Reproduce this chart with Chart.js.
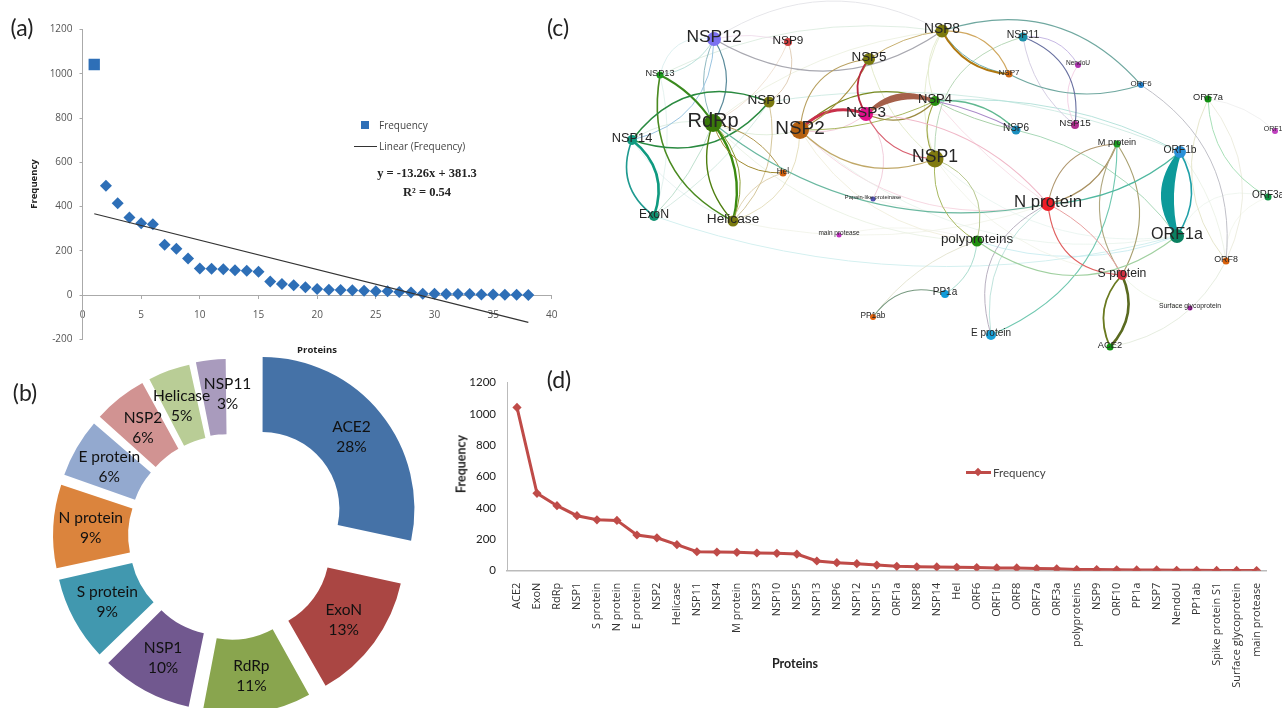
<!DOCTYPE html>
<html>
<head>
<meta charset="utf-8">
<title>Protein frequency</title>
<script src="https://cdn.jsdelivr.net/npm/chart.js@4"></script>
<style>
  html, body { margin: 0; background: #fff; overflow: hidden; width: 1282px; height: 708px; }
  #page { position: relative; width: 1282px; height: 708px; overflow: hidden; filter: blur(0.4px); }
  canvas { position: absolute; }
  .t { position: absolute; white-space: nowrap; transform: translate(-50%, -50%); color: #222; }
  .letter { font: 23px Lato, sans-serif; }
  .leg { font: 10px "Open Sans", sans-serif; color: #444; transform: translateY(-50%); }
</style>
</head>
<body>
<div id="page">
  <canvas id="panelA" width="570" height="356" style="left:0;top:0"></canvas>
  <canvas id="panelB" width="456" height="380" style="left:1px;top:346px"></canvas>
  <canvas id="panelC" width="692" height="360" style="left:590px;top:0"></canvas>
  <canvas id="panelD" width="842" height="348" style="left:440px;top:360px"></canvas>

  <div class="t letter" style="left:22px;top:27px">(a)</div>
  <div class="t letter" style="left:25px;top:392px">(b)</div>
  <div class="t letter" style="left:558px;top:27px">(c)</div>
  <div class="t letter" style="left:559px;top:379px">(d)</div>

  <div class="t" style="left:33px;top:184px;font:bold 9.5px 'Open Sans';transform:translate(-50%,-50%) rotate(-90deg)">Frequency</div>
  <div class="t" style="left:317px;top:349px;font:bold 9.5px 'Open Sans'">Proteins</div>
  <div style="position:absolute;left:361px;top:121px;width:8px;height:8px;background:#2e6fb7"></div>
  <div class="t leg" style="left:379px;top:125px">Frequency</div>
  <div style="position:absolute;left:354px;top:146px;width:23px;height:1px;background:#333"></div>
  <div class="t leg" style="left:379px;top:146px">Linear (Frequency)</div>
  <div class="t" style="left:427px;top:173px;font:bold 12.5px 'Liberation Serif'">y = -13.26x + 381.3</div>
  <div class="t" style="left:427px;top:192px;font:bold 12.5px 'Liberation Serif'">R² = 0.54</div>

  <div class="t" style="left:461px;top:464px;font:bold 12.5px Lato;transform:translate(-50%,-50%) rotate(-90deg)">Frequency</div>
  <div class="t" style="left:795px;top:663px;font:bold 12.5px Lato">Proteins</div>
  <div style="position:absolute;left:966px;top:471px;width:25px;height:3px;background:#bf4b48"></div>
  <div style="position:absolute;left:975px;top:469px;width:6px;height:6px;background:#bf4b48;transform:rotate(45deg)"></div>
  <div class="t leg" style="left:993px;top:472px;font:11.5px Lato">Frequency</div>
</div>

<script>
// frequency per protein
const proteins = ['ACE2','ExoN','RdRp','NSP1','S protein','N protein','E protein','NSP2','Helicase','NSP11','NSP4','M protein','NSP3','NSP10','NSP5','NSP13','NSP6','NSP12','NSP15','ORF1a','NSP8','NSP14','Hel','ORF6','ORF1b','ORF8','ORF7a','ORF3a','polyproteins','NSP9','ORF10','PP1a','NSP7','NendoU','PP1ab','Spike protein S1','Surface glycoprotein','main protease'];
const frequency = [1042,494,415,351,325,321,228,210,166,121,119,117,113,111,106,62,51,45,36,28,25,24,22,20,18,18,14,12,7,7,6,5,5,3,3,2,2,1];
const trendX = [1,38];
const trendY = [368,-122.6];
const freqTicks = { min: -200, max: 1200, step: 200 };

// top ten share (b), the same counts as the first ten of panel (d)
const shareNames = ['ACE2','ExoN','RdRp','NSP1','S protein','N protein','E protein','NSP2','Helicase','NSP11'];
const shareValues = [1042,494,415,351,325,321,228,210,166,121];
const shareColors = ['#4572a7','#aa4643','#89a54e','#71588f','#4198af','#db843d','#93a9cf','#d19392','#b9cd96','#a99bbd'];
const shareExplode = [44,29,28,25,25,25,25,25,25,26];

// network (c): node layout
const nodeNames = ['NSP12','NSP9','NSP13','NSP5','NSP8','NSP11','NendoU','NSP7','ORF6','ORF7a','ORF10','NSP10','NSP4','NSP3','NSP2','RdRp','NSP14','NSP6','NSP15','M protein','ORF1b','NSP1','Hel','Papain-like proteinase','N protein','ExoN','Helicase','main protease','polyproteins','ORF1a','ORF3a','ORF8','S protein','PP1a','PP1ab','Surface glycoprotein','E protein','ACE2'];
const nodeX = [714,788,660,869,942,1023,1078,1009,1141,1208,1275,769,935,866,800,713,632,1016,1075,1117,1180,935,783,873,1048,654,733,839,977,1177,1268,1226,1122,945,873,1190,991,1110];
const nodeY = [39,42,75,59,31,37,65,74,85,99,131,102,101,114,130,123,140,130,125,144,152,159,173,199,204,216,221,235,241,236,197,261,275,294,317,308,335,347];
const nodeSize = [7,4,3.5,6,6.5,4.5,3,3.5,3,3.5,3,5.5,5,7,9,9,5,4.5,4,3.5,6,8.5,3.5,2.5,7,5,5.5,2.5,5.5,7,3.5,3.5,5,4,3,2.5,5,3.5];
const nodeColor = ['#7b72f0','#cf3f3f','#1a9a1a','#7a7a10','#7d7a0c','#1c8fa8','#b030b0','#d06a10','#1f80d0','#109010','#c040c0','#7a7a10','#2a9010','#e0108a','#b5600f','#3a7a0a','#0f9a80','#1c90c0','#b03090','#1a9a20','#2a90d8','#807a10','#d0600f','#5050b0','#ee1c25','#109070','#7a7a10','#c030c0','#209010','#0a8060','#109040','#d8600a','#d03040','#109ad8','#e0600a','#a020a0','#18a0d8','#109010'];
const nodeFont = [17.4,11.8,9.2,13.4,13.8,10.5,6.6,8,7.9,9.3,7,13.6,13,15.3,18.9,20,12.8,10,9.9,9.2,10.3,17.6,8.2,5.7,16.8,12.3,13.7,6.5,13.4,16.1,10,8.9,12.2,10,8.3,6.8,10,9.3];

// from, to, bend (positive = left of travel), width, colour
const edgeList = [
  // pale background links first
  ['ExoN','ORF1a',-40,1,'#d4f0f0'],['NSP12','NSP8',34,1,'#e6e6ea'],['NSP10','ORF1b',30,.9,'#cdeae2'],['NSP2','N protein',-35,.9,'#f6d4df'],
  ['NSP4','N protein',-5,.8,'#f6d8e2'],['NSP13','NSP8',22,.8,'#d8eadc'],['RdRp','NSP8',18,.7,'#e6ecd8'],['RdRp','NSP2',-8,.7,'#d6e8d0'],
  ['RdRp','polyproteins',-30,.7,'#e4eedc'],['NSP2','polyproteins',-26,.7,'#ecead2'],['Helicase','N protein',-22,.7,'#eef0e4'],['NSP2','ORF1a',-48,.7,'#e4f0e8'],
  ['ExoN','NSP10',-8,.8,'#cde6dc'],['ExoN','RdRp',-6,.9,'#b8dcc8'],['ExoN','NSP13',-10,.7,'#d8ece8'],['NSP14','Helicase',-10,.7,'#dcecec'],['NSP14','RdRp',8,.7,'#d0e6d8'],
  ['NSP9','RdRp',10,.8,'#ecdccc'],['NSP12','NSP9',5,.8,'#eed8e8'],['NSP9','NSP10',12,.9,'#dcc8b0'],['NSP2','Helicase',20,.8,'#e0d8b0'],['NSP5','NSP1',-10,.8,'#dde6c0'],
  ['NSP8','NSP1',-14,.8,'#e0e8c8'],['NSP8','NSP4',-10,.8,'#dfe8c6'],['main protease','polyproteins',10,.6,'#eef0e4'],['Papain-like proteinase','N protein',-12,.6,'#f2f2ea'],
  ['polyproteins','PP1ab',-10,.8,'#e0e0c8'],['polyproteins','ORF1a',-18,.9,'#c8ecf0'],['NSP1','ORF1a',-30,.7,'#e4f2ec'],['NSP1','S protein',-24,.7,'#eef0e4'],
  ['ORF1b','ORF8',8,.7,'#e6eee0'],['ORF1a','ORF3a',20,.7,'#eaf2ea'],['ORF7a','ORF10',6,.6,'#e8e8e8'],['ORF3a','ORF8',-14,.6,'#ecf2e4'],['ORF7a','ORF8',-25,.8,'#e0e0c0'],['ORF7a','ORF8',25,.8,'#e8e8d8'],
  ['Surface glycoprotein','S protein',8,.7,'#e8f0e0'],['ORF8','ACE2',18,.8,'#e0e8d8'],['N protein','E protein',-22,.9,'#b8e0d8'],['NSP6','ORF1a',18,1,'#a8d8b8'],['NSP4','ORF1b',18,.9,'#b0e0d8'],
  ['NSP11','NSP1',-30,1,'#b8d8b8'],['NSP3','Papain-like proteinase',14,.9,'#f0c8d8'],['NSP2','NSP3',-8,.8,'#f0c0d0'],['NSP12','NSP13',-15,.8,'#d5ecec'],['NSP12','NSP13',8,.8,'#a8d8d0'],
  ['Helicase','Hel',9,.8,'#d8c8a0'],['NSP10','Helicase',17,.9,'#cfc090'],['polyproteins','PP1a',8,.9,'#a0d8c8'],['NSP11','NSP15',-10,.9,'#d0c8e0'],['NendoU','NSP15',-9,.8,'#f0c8e0'],['NSP11','NendoU',10,.9,'#c0b0e0'],
  // stronger links
  ['NSP12','RdRp',13,1.2,'#5a8a9a'],['NSP12','RdRp',-10,1,'#8fb8c0'],['NSP12','NSP14',25,1,'#9ac4e0'],['NSP12','NSP8',-36,1.3,'#a8a8b0'],
  ['NSP13','RdRp',5,2,'#3a8a1e'],['NSP13','Helicase',-30,1.6,'#4a8a20'],['NSP14','NSP10',27,1.6,'#2a8a40'],['NSP14','NSP10',-24,1.5,'#2a8a40'],
  ['RdRp','Helicase',-15,1.4,'#4f7f10'],['RdRp','Helicase',12,2.4,'#3a8a10'],['RdRp','Helicase',16,1,'#8a9a30'],['RdRp','Hel',-16,1,'#a08a30'],['RdRp','Hel',10,1,'#b09850'],
  ['RdRp','N protein',-40,1.2,'#6ab8a0'],['NSP14','ExoN',14,2.6,'#0f9a80'],['NSP14','ExoN',-15,1.6,'#1f9a90'],
  ['NSP2','NSP4',22,1.3,'#7a8a20'],['NSP2','NSP4',-8,1,'#a8b860'],['NSP3','NSP4',-12,1.3,'#9a8a40'],
  ['NSP3','NSP4',8,1.8,'#a5604a'],['NSP3','NSP4',9,1.8,'#a5604a'],['NSP3','NSP4',10,1.8,'#a5604a'],['NSP3','NSP4',11,1.8,'#a5604a'],['NSP3','NSP4',12,1.8,'#a5604a'],['NSP3','NSP4',13,1.8,'#a5604a'],
  ['NSP2','NSP3',11,3,'#c8304a'],['NSP2','NSP5',20,1.1,'#b8a060'],['NSP2','NSP5',-8,1.1,'#a89040'],['NSP5','NSP3',-10,1.8,'#b82840'],['NSP5','NSP8',5,1,'#c8b070'],
  ['NSP2','NSP1',-22,1.2,'#c0a868'],['NSP3','NSP1',-12,1.1,'#d86070'],['NSP4','NSP1',-8,1.1,'#a0a848'],['NSP3','N protein',22,1.1,'#f0b8c8'],
  ['NSP4','NSP6',10,1.3,'#60b890'],['NSP4','NSP6',3,1.1,'#a888c8'],['NSP4','NSP6',-3,1,'#a8d0a8'],['NSP1','polyproteins',-15,1,'#a8b860'],['NSP1','polyproteins',20,1,'#b8c890'],
  ['NSP8','NSP7',14,1.1,'#d0a860'],['NSP8','NSP7',-9,1,'#70b0b0'],['NSP8','NSP7',-11,2,'#b07810'],['NSP8','ORF6',34,1.1,'#70a8a0'],['NSP7','ORF6',-14,1.1,'#70a8a0'],
  ['NSP11','NSP15',20,1.1,'#6870a0'],['ORF6','ORF8',30,1,'#c0c0c8'],['ORF7a','ORF3a',-16,1,'#a8e0b8'],
  ['N protein','M protein',18,1.1,'#b09870'],['N protein','M protein',-12,1.3,'#a89060'],['M protein','S protein',-20,1.1,'#b0a880'],['M protein','S protein',20,1.1,'#a8a070'],
  ['M protein','E protein',38,1.1,'#70c8b0'],['N protein','ORF1b',-12,1.4,'#50b8a0'],['N protein','S protein',-22,1.2,'#e06060'],['N protein','S protein',8,1,'#e8a0a0'],['N protein','E protein',-30,1,'#b8b0c0'],
  ['polyproteins','ORF1a',-37,1.1,'#a0d0a0'],['PP1a','PP1ab',-14,1.1,'#789a80'],['S protein','ACE2',-12,1.8,'#6a7a20'],['S protein','ACE2',12,2.6,'#5a6a20'],
  ['ORF1b','ORF1a',13,1.6,'#20a0a8'],
  ['ORF1b','ORF1a',-6,3,'#0e9a9a'],['ORF1b','ORF1a',-8,3,'#0e9a9a'],['ORF1b','ORF1a',-10,3,'#0e9a9a'],['ORF1b','ORF1a',-12,3,'#0e9a9a'],['ORF1b','ORF1a',-14,3,'#0e9a9a'],['ORF1b','ORF1a',-16,3,'#0e9a9a']
];

Chart.defaults.animation = false;
Chart.defaults.responsive = false;
Chart.defaults.layout.autoPadding = false;
Chart.defaults.plugins.legend.display = false;
Chart.defaults.plugins.tooltip.enabled = false;

// panel a
new Chart(document.getElementById('panelA'), {
  type: 'scatter',
  data: {
    datasets: [
      {
        data: trendX.map((x, i) => ({ x, y: trendY[i] })),
        showLine: true, borderColor: '#333', borderWidth: 1.1, pointRadius: 0
      },
      {
        data: frequency.map((y, i) => ({ x: i + 1, y })),
        backgroundColor: '#2e6fb7', borderWidth: 0,
        pointStyle: frequency.map((v, i) => i === 0 ? 'rect' : 'rectRot'),
        pointRadius: frequency.map((v, i) => i === 0 ? 8 : 6)
      }
    ]
  },
  options: {
    layout: { padding: { top: 29.5, right: 18.2, bottom: 16.5 } },
    scales: {
      x: {
        type: 'linear', position: { y: 0 }, min: 0, max: 40,
        grid: { drawOnChartArea: false, tickLength: 3, color: '#aaa' },
        border: { color: '#aaa' },
        ticks: { stepSize: 5, padding: 11, color: '#555', font: { family: 'Open Sans', size: 10 }, maxRotation: 0 }
      },
      y: {
        min: freqTicks.min, max: freqTicks.max,
        afterFit: s => { s.width = 82.5; },
        grid: { drawOnChartArea: false, tickLength: 3, color: '#aaa' },
        border: { color: '#aaa' },
        ticks: { stepSize: freqTicks.step, padding: 7, color: '#555', font: { family: 'Open Sans', size: 10 }, callback: v => v }
      }
    }
  }
});

const totalShare = shareValues.reduce((a, b) => a + b, 0);

// panel b, labels sit on the exploded slices
const sliceLabels = {
  id: 'sliceLabels',
  afterDatasetsDraw(chart) {
    const { ctx } = chart;
    ctx.save();
    ctx.font = '15.5px Lato';
    ctx.fillStyle = '#111';
    ctx.textAlign = 'center';
    ctx.textBaseline = 'middle';
    chart.getDatasetMeta(0).data.forEach((arc, i) => {
      const mid = (arc.startAngle + arc.endAngle) / 2;
      const r = (arc.innerRadius + arc.outerRadius) / 2 + shareExplode[i];
      let x = arc.x + Math.cos(mid) * r;
      let y = arc.y + Math.sin(mid) * r;
      if (shareNames[i] === 'NSP11') { x += 13; y -= 3; }
      ctx.fillText(shareNames[i], x, y - 10);
      ctx.fillText(Math.round(shareValues[i] / totalShare * 100) + '%', x, y + 10);
    });
    ctx.restore();
  }
};

// arc offset in Chart.js is offset/4 of translation plus a radius push that grows for thin slices
const arcOffsets = shareValues.map((v, i) => 4 * shareExplode[i] / (2 - Math.sin(Math.min(Math.PI, v / totalShare * 2 * Math.PI))));

new Chart(document.getElementById('panelB'), {
  type: 'doughnut',
  data: {
    labels: shareNames,
    datasets: [{ data: shareValues, backgroundColor: shareColors, borderWidth: 0, offset: arcOffsets }]
  },
  options: { radius: 151, cutout: '50.3%' },
  plugins: [sliceLabels]
});

// panel c, links go under the node dataset
const edgeLinks = {
  id: 'edgeLinks',
  beforeDatasetsDraw(chart) {
    const { ctx, scales } = chart;
    ctx.save();
    ctx.lineCap = 'round';
    edgeList.forEach(e => {
      const a = nodeNames.indexOf(e[0]), b = nodeNames.indexOf(e[1]);
      const dx = nodeX[b] - nodeX[a], dy = nodeY[b] - nodeY[a];
      const len = Math.hypot(dx, dy);
      const cx = (nodeX[a] + nodeX[b]) / 2 + dy / len * e[2] * 2;
      const cy = (nodeY[a] + nodeY[b]) / 2 - dx / len * e[2] * 2;
      ctx.beginPath();
      ctx.moveTo(scales.x.getPixelForValue(nodeX[a]), scales.y.getPixelForValue(nodeY[a]));
      ctx.quadraticCurveTo(scales.x.getPixelForValue(cx), scales.y.getPixelForValue(cy),
        scales.x.getPixelForValue(nodeX[b]), scales.y.getPixelForValue(nodeY[b]));
      ctx.lineWidth = e[3];
      ctx.strokeStyle = e[4];
      ctx.stroke();
    });
    ctx.restore();
  }
};

const nodeLabels = {
  id: 'nodeLabels',
  afterDatasetsDraw(chart) {
    const { ctx, scales } = chart;
    ctx.save();
    ctx.fillStyle = '#262626';
    ctx.textAlign = 'center';
    ctx.textBaseline = 'middle';
    nodeNames.forEach((name, i) => {
      ctx.font = nodeFont[i] + 'px "Liberation Sans"';
      ctx.fillText(name, scales.x.getPixelForValue(nodeX[i]), scales.y.getPixelForValue(nodeY[i]) - 1.5);
    });
    ctx.restore();
  }
};

new Chart(document.getElementById('panelC'), {
  type: 'scatter',
  data: {
    datasets: [{
      data: nodeX.map((x, i) => ({ x, y: nodeY[i] })),
      backgroundColor: nodeColor, borderWidth: 0, pointRadius: nodeSize
    }]
  },
  options: {
    scales: {
      x: { type: 'linear', display: false, min: 590, max: 1282 },
      y: { type: 'linear', display: false, min: 0, max: 360, reverse: true }
    }
  },
  plugins: [edgeLinks, nodeLabels]
});

// panel d
new Chart(document.getElementById('panelD'), {
  type: 'line',
  data: {
    labels: proteins,
    datasets: [{
      data: frequency,
      borderColor: '#bf4b48', backgroundColor: '#bf4b48', borderWidth: 3,
      pointStyle: 'rectRot', pointRadius: 4.6, pointBorderWidth: 0, tension: 0
    }]
  },
  options: {
    layout: { padding: { top: 22.7, right: 14 } },
    scales: {
      x: {
        offset: true,
        afterFit: s => { s.height = 137.3; },
        grid: { display: false, drawTicks: false },
        border: { color: '#bbb', width: 1.5 },
        ticks: { autoSkip: false, minRotation: 90, maxRotation: 90, padding: 12, color: '#333', font: { family: 'Open Sans', size: 11 } }
      },
      y: {
        min: 0, max: 1200,
        afterFit: s => { s.width = 67; },
        grid: { display: false, drawTicks: false },
        border: { color: '#bbb', width: 1 },
        ticks: { stepSize: 200, padding: 11, color: '#222', font: { family: 'Lato', size: 11.5 }, callback: v => v }
      }
    }
  }
});
</script>
</body>
</html>
